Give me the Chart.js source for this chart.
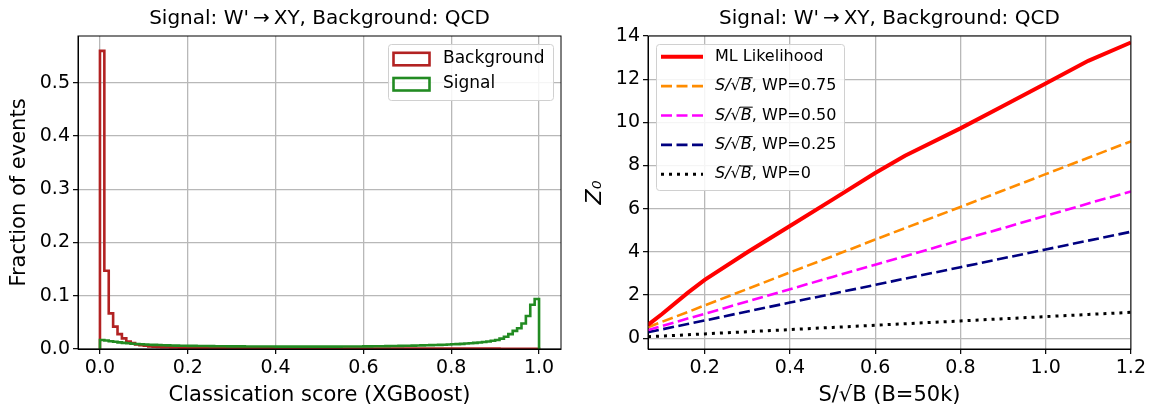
<!DOCTYPE html>
<html>
<head>
<meta charset="utf-8">
<script src="https://cdn.jsdelivr.net/npm/chart.js@4.4.0/dist/chart.umd.min.js"></script>
<style>
  html, body { margin: 0; padding: 0; background: #fff; }
  #wrap { position: relative; width: 1149px; height: 409px; }
  #histChart { position: absolute; left: 0; top: 0; }
  #zChart { position: absolute; left: 574px; top: 0; }
</style>
</head>
<body>
<div id="wrap">
  <canvas id="histChart" width="574" height="409"></canvas>
  <canvas id="zChart" width="575" height="409"></canvas>
</div>
<script>
// LEFT: classifier score histograms, 100 bins of width 0.01 on [0, 1]
const bgFraction = [
  0.560, 0.147, 0.067, 0.042, 0.028, 0.020, 0.014, 0.011, 0.0085, 0.007,
  0.006, 0.005, 0.0045, 0.004, 0.0036, 0.0033, 0.003, 0.0028, 0.0026, 0.0025,
  0.0024, 0.0023, 0.0022, 0.0021, 0.002, 0.002, 0.0019, 0.0019, 0.0018, 0.0018,
  0.0017, 0.0017, 0.0016, 0.0016, 0.0016, 0.0015, 0.0015, 0.0015, 0.0014, 0.0014,
  0.0014, 0.0013, 0.0013, 0.0013, 0.0013, 0.0012, 0.0012, 0.0012, 0.0012, 0.0011,
  0.0011, 0.0011, 0.0011, 0.0011, 0.001, 0.001, 0.001, 0.001, 0.001, 0.001,
  0.0009, 0.0009, 0.0009, 0.0009, 0.0009, 0.0009, 0.0009, 0.0009, 0.0009, 0.0009,
  0.0009, 0.0008, 0.0008, 0.0008, 0.0008, 0.0008, 0.0008, 0.0008, 0.0008, 0.0008,
  0.0008, 0.0007, 0.0007, 0.0007, 0.0007, 0.0007, 0.0007, 0.0007, 0.0007, 0.0007,
  0.0007, 0.0006, 0.0006, 0.0006, 0.0006, 0.0006, 0.0005, 0.0005, 0.0005, 0.0005
];
const sigFraction = [
  0.017, 0.016, 0.0145, 0.0135, 0.0125, 0.0115, 0.0108, 0.010, 0.0095, 0.009,
  0.0085, 0.008, 0.0077, 0.0074, 0.0071, 0.0068, 0.0066, 0.0064, 0.0062, 0.006,
  0.0059, 0.0058, 0.0057, 0.0056, 0.0055, 0.0054, 0.0053, 0.0052, 0.0051, 0.0050,
  0.0050, 0.0049, 0.0049, 0.0048, 0.0048, 0.0047, 0.0047, 0.0046, 0.0046, 0.0046,
  0.0045, 0.0045, 0.0045, 0.0045, 0.0044, 0.0044, 0.0044, 0.0044, 0.0044, 0.0044,
  0.0044, 0.0045, 0.0045, 0.0045, 0.0045, 0.0046, 0.0046, 0.0047, 0.0047, 0.0048,
  0.0049, 0.0050, 0.0051, 0.0052, 0.0053, 0.0054, 0.0055, 0.0057, 0.0058, 0.0060,
  0.0062, 0.0064, 0.0066, 0.0068, 0.0070, 0.0072, 0.0075, 0.0078, 0.0081, 0.0084,
  0.0088, 0.0092, 0.0097, 0.0102, 0.0108, 0.0115, 0.0123, 0.0132, 0.0142, 0.0155,
  0.017, 0.0195, 0.023, 0.028, 0.034, 0.039, 0.048, 0.062, 0.083, 0.094
];
const histLabels = ['Background', 'Signal'];

// RIGHT: significance vs S/sqrt(B)
const sOverRootB = [0.067, 0.1, 0.16, 0.2, 0.3, 0.4, 0.5, 0.6, 0.67, 0.8, 0.9, 1.0, 1.1, 1.2];
const zML    = [0.62, 1.12, 2.1, 2.7, 3.98, 5.2, 6.42, 7.65, 8.45, 9.72, 10.76, 11.8, 12.85, 13.7];
const zWP075 = [0.51, 0.76, 1.21, 1.52, 2.28, 3.05, 3.8, 4.57, 5.1, 6.08, 6.84, 7.6, 8.36, 9.12];
const zWP050 = [0.38, 0.57, 0.91, 1.13, 1.7, 2.27, 2.84, 3.4, 3.8, 4.54, 5.1, 5.67, 6.24, 6.8];
const zWP025 = [0.28, 0.41, 0.66, 0.82, 1.24, 1.65, 2.06, 2.47, 2.76, 3.29, 3.7, 4.11, 4.52, 4.93];
const zWP0   = [0.067, 0.1, 0.16, 0.2, 0.3, 0.4, 0.5, 0.6, 0.67, 0.8, 0.9, 1.0, 1.1, 1.2];
const zLabels = ['ML Likelihood', 'S/√B, WP=0.75', 'S/√B, WP=0.50', 'S/√B, WP=0.25', 'S/√B, WP=0'];

const FONT = 'DejaVu Sans';
const TITLE = 'Signal: W\'\u2009\u2192\u2009XY, Background: QCD';
Chart.defaults.color = '#000';
Chart.defaults.font.family = FONT;

// histogram outline: up at 0, flat over each bin, down at 1
function histOutline(vals) {
  const w = 1 / vals.length;
  const pts = [{ x: 0, y: 0 }];
  vals.forEach((v, i) => { pts.push({ x: i * w, y: v }, { x: (i + 1) * w, y: v }); });
  pts.push({ x: 1, y: 0 });
  return pts;
}
const xy = (xs, ys) => xs.map((x, i) => ({ x: x, y: ys[i] }));

// axes frame + matplotlib-like legend box drawn in the plot area
const frameLegend = {
  id: 'boxLegend',
  afterDraw(chart, args, o) {
    const { ctx, chartArea: a } = chart;
    ctx.save();
    ctx.strokeStyle = '#000';
    ctx.lineWidth = 1;
    ctx.strokeRect(a.left, a.top, a.right - a.left, a.bottom - a.top);

    const fx = o.right ? a.right - o.inset - o.width : a.left + o.inset;
    const fy = a.top + o.inset;
    ctx.beginPath();
    if (ctx.roundRect) ctx.roundRect(fx + 0.5, fy + 0.5, o.width, o.height, 3);
    else ctx.rect(fx + 0.5, fy + 0.5, o.width, o.height);
    ctx.fillStyle = 'rgba(255,255,255,0.85)';
    ctx.fill();
    ctx.strokeStyle = '#d0d0d0';
    ctx.lineWidth = 1;
    ctx.stroke();

    o.order.forEach((di, row) => {
      const ds = chart.data.datasets[di];
      const cy = fy + o.rowStart + row * o.rowGap;
      const sx = fx + o.sampleX;
      ctx.strokeStyle = ds.borderColor;
      if (o.sample === 'box') {
        ctx.lineWidth = 2.6;
        ctx.setLineDash([]);
        ctx.strokeRect(sx, cy - 6, o.sampleW, 12.5);
      } else {
        ctx.lineWidth = ds.borderWidth;
        ctx.setLineDash(ds.borderDash || []);
        ctx.beginPath();
        ctx.moveTo(sx, cy);
        ctx.lineTo(sx + o.sampleW, cy);
        ctx.stroke();
      }
      ctx.setLineDash([]);
      ctx.fillStyle = '#000';
      ctx.textBaseline = 'middle';
      let tx = fx + o.textX;
      let label = ds.label;
      if (label.startsWith('S/√B')) {
        ctx.font = `italic ${o.fontSize}px "${FONT}"`;
        const pre = 'S/√';
        ctx.fillText(pre, tx, cy);
        tx += ctx.measureText(pre).width;
        const bw = ctx.measureText('B').width;
        ctx.fillText('B', tx, cy);
        ctx.lineWidth = 1;
        ctx.strokeStyle = '#000';
        ctx.beginPath();
        ctx.moveTo(tx - 1, cy - o.fontSize * 0.52);
        ctx.lineTo(tx + bw + 1, cy - o.fontSize * 0.52);
        ctx.stroke();
        tx += bw;
        label = label.slice(4);
      }
      ctx.font = `${o.fontSize}px "${FONT}"`;
      ctx.fillText(label, tx, cy);
    });
    ctx.restore();
  }
};

function axisStyle(extra) {
  return Object.assign({
    type: 'linear',
    grid: { color: '#b8b8b8', lineWidth: 1.3, tickColor: '#000', tickLength: 5, tickWidth: 1.2 },
    border: { color: '#000', width: 1 }
  }, extra);
}

// LEFT CHART
new Chart(document.getElementById('histChart'), {
  type: 'line',
  data: {
    datasets: [
      { label: histLabels[0], data: histOutline(bgFraction), borderColor: '#b22222',
        backgroundColor: '#fff', borderWidth: 2.6, pointRadius: 0, fill: false, order: 1 },
      { label: histLabels[1], data: histOutline(sigFraction), borderColor: '#228b22',
        backgroundColor: '#fff', borderWidth: 2.6, pointRadius: 0, fill: false, order: 0 }
    ]
  },
  options: {
    responsive: false,
    animation: false,
    layout: { padding: { left: 0, right: 13, top: 0, bottom: 0 } },
    scales: {
      x: axisStyle({
        min: -0.05, max: 1.05,
        ticks: { stepSize: 0.2, includeBounds: false, maxRotation: 0, autoSkip: false,
          font: { size: 19 }, callback: v => v.toFixed(1) },
        title: { display: true, text: 'Classication score (XGBoost)', font: { size: 21 },
          padding: { top: 0, bottom: 1 } },
        afterFit: s => { s.height = 60; }
      }),
      y: axisStyle({
        min: 0, max: 0.588,
        ticks: { stepSize: 0.1, includeBounds: false, font: { size: 19 }, callback: v => v.toFixed(1) },
        title: { display: true, text: 'Fraction of events', font: { size: 21 },
          padding: { top: 7, bottom: 0 } },
        afterFit: s => { s.width = 78; }
      })
    },
    plugins: {
      legend: { display: false },
      tooltip: { enabled: false },
      title: { display: true, text: TITLE, fullSize: false, font: { size: 20, weight: 'normal' },
        padding: { top: 7, bottom: 5 } },
      boxLegend: { right: true, inset: 8, width: 165, height: 56, order: [0, 1], sample: 'box',
        sampleX: 5.5, sampleW: 36, textX: 55, rowStart: 14.8, rowGap: 25.2, fontSize: 17 }
    }
  },
  plugins: [frameLegend]
});

// RIGHT CHART
const dash = [11, 4.5];
new Chart(document.getElementById('zChart'), {
  type: 'line',
  data: {
    datasets: [
      { label: zLabels[0], data: xy(sOverRootB, zML), borderColor: '#ff0000', borderWidth: 4, order: 0 },
      { label: zLabels[1], data: xy(sOverRootB, zWP075), borderColor: '#ff8c00', borderWidth: 2.6, borderDash: dash, order: 1 },
      { label: zLabels[2], data: xy(sOverRootB, zWP050), borderColor: '#ff00ff', borderWidth: 2.6, borderDash: dash, order: 2 },
      { label: zLabels[3], data: xy(sOverRootB, zWP025), borderColor: '#000080', borderWidth: 2.6, borderDash: dash, order: 3 },
      { label: zLabels[4], data: xy(sOverRootB, zWP0), borderColor: '#000000', borderWidth: 3, borderDash: [3, 5], order: 4 }
    ].map(d => Object.assign({ pointRadius: 0, fill: false, tension: 0, borderCapStyle: 'butt' }, d))
  },
  options: {
    responsive: false,
    animation: false,
    layout: { padding: { left: 0, right: 18, top: 0, bottom: 0 } },
    scales: {
      x: axisStyle({
        min: 0.067, max: 1.2,
        ticks: { stepSize: 0.2, includeBounds: false, maxRotation: 0, autoSkip: false,
          font: { size: 19 }, callback: v => v.toFixed(1) },
        title: { display: true, text: 'S/√B (B=50k)', font: { size: 21 },
          padding: { top: 0, bottom: 1 } },
        afterFit: s => { s.height = 60; }
      }),
      y: axisStyle({
        min: -0.5, max: 14,
        ticks: { stepSize: 2, includeBounds: false, font: { size: 19 } },
        title: { display: true, text: 'Z₀', font: { size: 22, style: 'italic' },
          padding: { top: 8, bottom: 0 } },
        afterFit: s => { s.width = 74; }
      })
    },
    plugins: {
      legend: { display: false },
      tooltip: { enabled: false },
      title: { display: true, text: TITLE, fullSize: false, font: { size: 20, weight: 'normal' },
        padding: { top: 7, bottom: 5 } },
      boxLegend: { right: false, inset: 8, width: 188, height: 146, order: [0, 1, 2, 3, 4], sample: 'line',
        sampleX: 5, sampleW: 42, textX: 59, rowStart: 12.7, rowGap: 29.4, fontSize: 16 }
    }
  },
  plugins: [frameLegend]
});
</script>
</body>
</html>
